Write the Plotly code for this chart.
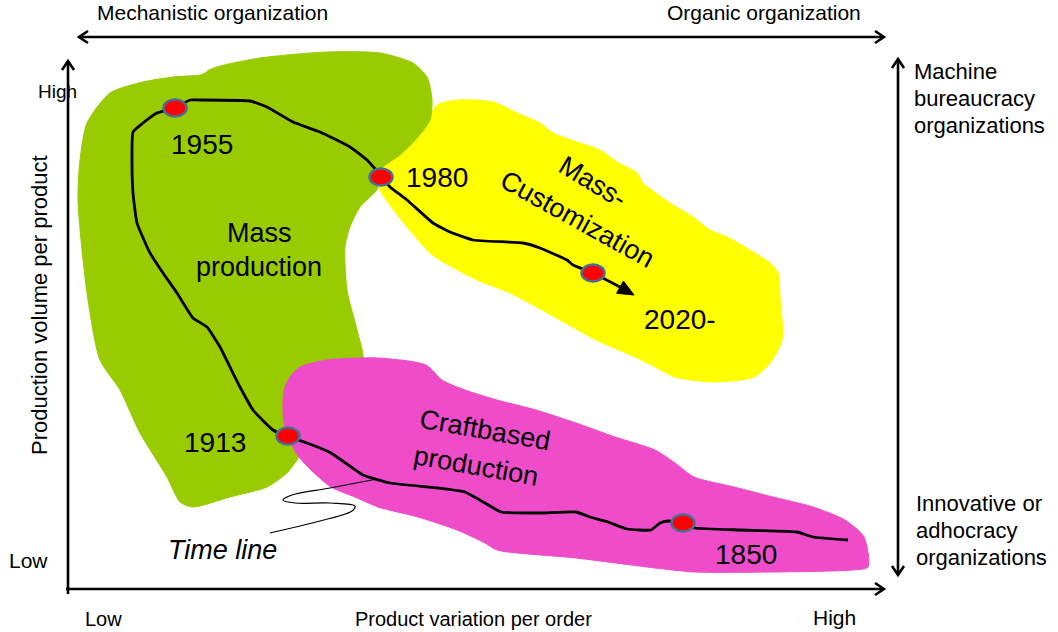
import math
import plotly.graph_objects as go

W, H = 1058, 632

# ---------------- data (picture space: x to the right, y downward) ----------------
mass_x = [200, 205, 209, 220, 260, 327, 380, 413, 427, 432, 430, 418, 400, 383, 376, 378, 360, 350, 345, 347, 357,
          363, 340, 310, 297, 287, 267, 230, 193, 180, 167, 140, 120, 100, 87, 78, 80, 87, 110, 143, 173]
mass_y = [75, 73, 70, 66, 58, 52, 53, 63, 77, 100, 120, 137, 155, 167, 178, 188, 207, 227, 247, 290, 330,
          360, 400, 440, 460, 473, 487, 497, 507, 502, 477, 433, 390, 360, 293, 200, 160, 123, 93, 82, 77]

custom_x = [437, 457, 493, 517, 540, 553, 577, 600, 617, 637, 643, 670, 693, 710, 727, 750, 770, 778, 780, 782,
            770, 754, 714, 675, 655, 635, 596, 560, 510, 477, 443, 430, 407, 390, 380, 378, 395, 415, 430]
custom_y = [105, 100, 102, 113, 123, 133, 142, 150, 162, 173, 183, 203, 217, 230, 237, 250, 263, 273, 297, 340,
            363, 377, 382, 377, 367, 357, 340, 320, 293, 280, 262, 253, 227, 205, 190, 170, 155, 135, 115]

craft_x = [300, 327, 378, 426, 442, 465, 497, 536, 576, 615, 655, 675, 694, 734, 773, 813, 845, 864, 868,
           852, 773, 695, 655, 576, 497, 485, 457, 418, 378, 355, 331, 311, 296, 284, 284, 290]
craft_y = [367, 360, 358, 365, 380, 390, 400, 410, 423, 437, 450, 463, 477, 487, 497, 507, 520, 537, 567,
           570, 572, 572, 568, 558, 550, 543, 530, 517, 507, 497, 487, 470, 453, 423, 390, 377]

timeline_x = [848, 813, 797, 740, 695, 683, 668, 660, 651, 627, 608, 590, 576, 540, 501, 485, 465, 438, 390, 363,
              331, 307, 288, 273, 253, 240, 230, 220, 207, 193, 177, 163, 150, 137, 133, 132, 133, 143, 157, 175,
              190, 200, 250, 267, 293, 320, 350, 367, 382, 390, 407, 433, 450, 473, 523, 540, 567, 573, 593, 618]
timeline_y = [540, 537, 532, 530, 528, 523, 521, 523, 530, 529, 522, 517, 512, 513, 512, 503, 492, 488, 483, 475,
              453, 443, 437, 430, 410, 387, 367, 347, 327, 318, 293, 273, 253, 223, 193, 160, 132, 123, 113, 108,
              100, 100, 101, 107, 122, 132, 147, 160, 177, 187, 200, 223, 232, 240, 243, 248, 260, 265, 273, 286]
timeline_tip = (634, 295)

pointer_x = [377, 330, 292, 283, 295, 330, 355, 352, 320, 270]
pointer_y = [479, 488, 495, 500, 503, 503, 506, 511, 521, 533]

milestone_years = ["1850", "1913", "1955", "1980", "2020-"]
milestone_x = [683, 288, 175, 381, 593]
milestone_y = [523, 436, 108, 177, 273]
year_label_x = [746, 215, 202, 437, 680]
year_label_y = [554, 442, 144, 177, 319]

GREEN = "#99CC00"
YELLOW = "#FFFF00"
PINK = "#EE4CC8"

fig = go.Figure()

def blob(xs, ys, color):
    fig.add_trace(go.Scatter(x=xs + xs[:1], y=ys + ys[:1], mode="lines", fill="toself",
                             fillcolor=color, line=dict(color=color, width=1, shape="spline", smoothing=0.7),
                             hoverinfo="skip", showlegend=False))

blob(custom_x, custom_y, YELLOW)
blob(mass_x, mass_y, GREEN)
blob(craft_x, craft_y, PINK)

# time line
fig.add_trace(go.Scatter(x=timeline_x, y=timeline_y, mode="lines",
                         line=dict(color="black", width=2.8, shape="spline", smoothing=0.4),
                         hoverinfo="skip", showlegend=False))
# arrowhead of time line (filled triangle)
bx, by = timeline_x[-1], timeline_y[-1]
tx, ty = timeline_tip
dx, dy = tx - bx, ty - by
L = math.hypot(dx, dy)
ux, uy = dx / L, dy / L
hl, hw = 16, 7
base_x, base_y = tx - ux * hl, ty - uy * hl
tri_x = [tx, base_x - uy * hw, base_x + uy * hw, tx]
tri_y = [ty, base_y + ux * hw, base_y - ux * hw, ty]
fig.add_trace(go.Scatter(x=[bx, base_x], y=[by, base_y], mode="lines",
                         line=dict(color="black", width=2.8), hoverinfo="skip", showlegend=False))
fig.add_trace(go.Scatter(x=tri_x, y=tri_y, mode="lines", fill="toself", fillcolor="black",
                         line=dict(color="black", width=1), hoverinfo="skip", showlegend=False))

# pointer squiggle for "Time line"
fig.add_trace(go.Scatter(x=pointer_x, y=pointer_y, mode="lines",
                         line=dict(color="black", width=1.2, shape="spline", smoothing=1.0),
                         hoverinfo="skip", showlegend=False))

# axes / double arrows
def arrow_line(x0, y0, x1, y1, heads):
    fig.add_trace(go.Scatter(x=[x0, x1], y=[y0, y1], mode="lines",
                             line=dict(color="black", width=2.6), hoverinfo="skip", showlegend=False))
    for (px, py, qx, qy) in heads:
        ddx, ddy = px - qx, py - qy
        ll = math.hypot(ddx, ddy)
        vx, vy = ddx / ll, ddy / ll
        s, w = 9, 6
        cx, cy = px - vx * s, py - vy * s
        fig.add_trace(go.Scatter(x=[cx - vy * w, px, cx + vy * w], y=[cy + vx * w, py, cy - vx * w],
                                 mode="lines", line=dict(color="black", width=2.6),
                                 hoverinfo="skip", showlegend=False))

arrow_line(68, 594, 68, 61, [(68, 61, 68, 594)])
arrow_line(66, 589, 884, 589, [(884, 589, 66, 589)])
arrow_line(79, 37, 884, 37, [(79, 37, 884, 37), (884, 37, 79, 37)])
arrow_line(898, 59, 898, 575, [(898, 59, 898, 575), (898, 575, 898, 59)])

# milestone dots (ellipses)
shapes = []
for mx, my in zip(milestone_x, milestone_y):
    shapes.append(dict(type="circle", xref="x", yref="y", x0=mx - 11.5, x1=mx + 11.5, y0=my - 8.5, y1=my + 8.5,
                       fillcolor="#FF0000", line=dict(color="#4B6C93", width=2.5), layer="above"))

FONT = "Liberation Sans, Arial, sans-serif"
ann = []

def txt(x, y, t, size, family=FONT, angle=0, xanchor="center", italic=False):
    ann.append(dict(x=x, y=y, xref="x", yref="y", text=("<i>%s</i>" % t) if italic else t,
                    showarrow=False, xanchor=xanchor, yanchor="middle", textangle=angle,
                    font=dict(family=family, size=size, color="black")))

for lab, lx, ly in zip(milestone_years, year_label_x, year_label_y):
    txt(lx, ly, lab, 28)

txt(259, 233, "Mass", 27)
txt(259, 267, "production", 27)
txt(593, 182, "Mass-", 27, angle=31)
txt(577, 219, "Customization", 27, angle=29)
txt(485, 430, "Craftbased", 27, angle=10)
txt(476, 466, "production", 27, angle=10)
txt(222, 550, "Time line", 27, italic=True)

txt(212, 12, "Mechanistic organization", 21)
txt(764, 12, "Organic organization", 21)
txt(103, 619, "Low", 20)
txt(473, 619, "Product variation per order", 20)
txt(834, 617, "High", 21)

txt(57, 91, "High", 19)
txt(28, 560, "Low", 21)
txt(39, 305, "Production volume per product", 22, angle=-90)

for t, yy in zip(["Machine", "bureaucracy", "organizations"], [71, 98, 125]):
    txt(912, yy, t, 22, xanchor="left")
for t, yy in zip(["Innovative or", "adhocracy", "organizations"], [503, 530, 557]):
    txt(914, yy, t, 22, xanchor="left")

fig.update_layout(
    width=W, height=H, margin=dict(l=0, r=0, t=0, b=0),
    paper_bgcolor="white", plot_bgcolor="white",
    xaxis=dict(range=[0, W], visible=False, fixedrange=True),
    yaxis=dict(range=[H, 0], visible=False, fixedrange=True),
    shapes=shapes, annotations=ann, showlegend=False,
)

fig.write_html("out.html", config={"displayModeBar": False},
               post_script="document.body.style.margin='0';document.body.style.padding='0';document.body.style.overflow='hidden';")
